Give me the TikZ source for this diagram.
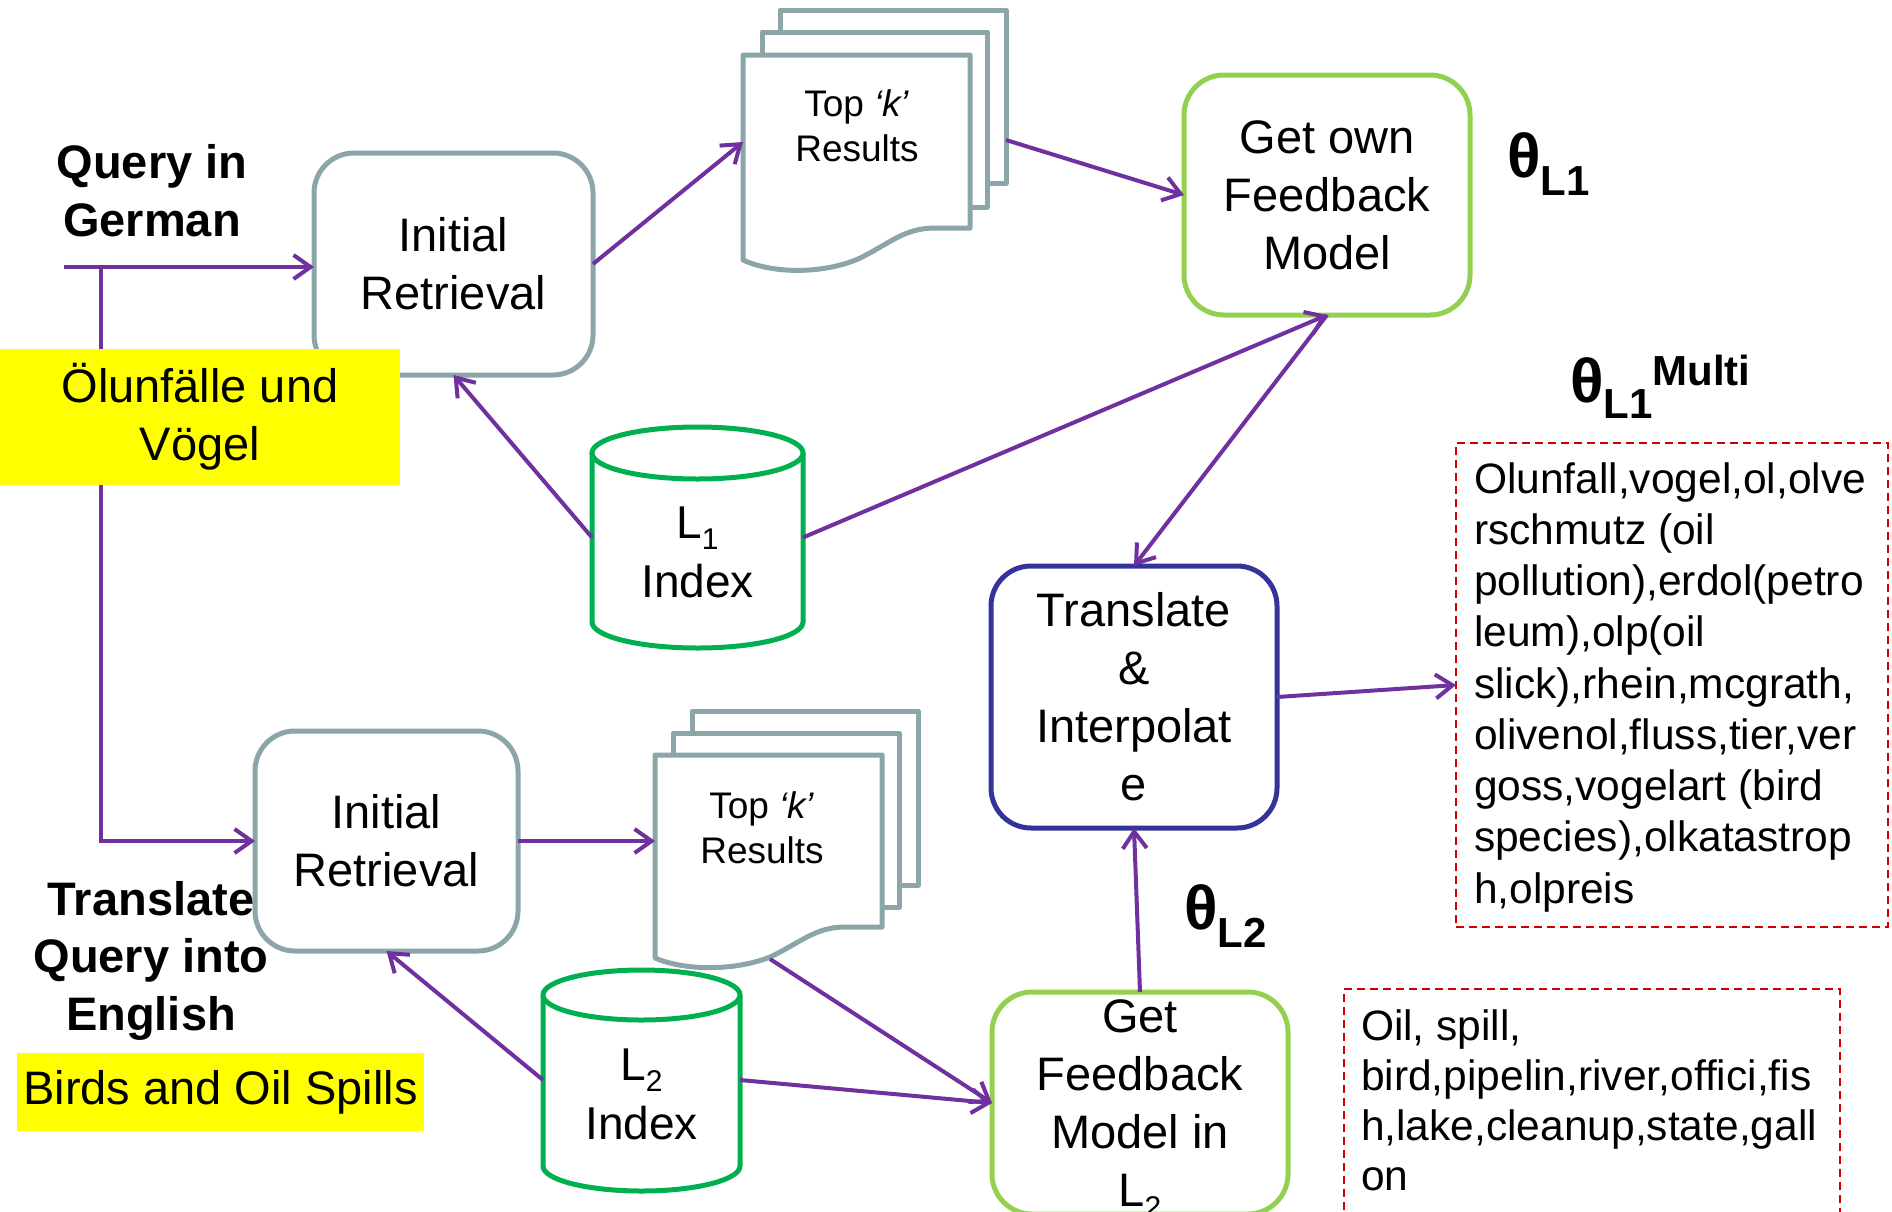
\documentclass[tikz,border=0pt]{standalone}
\usepackage{fontspec}
\setmainfont{Liberation Sans}
\usetikzlibrary{arrows.meta,calc}

\definecolor{flow}{RGB}{112,48,160}
\definecolor{slate}{RGB}{139,165,168}
\definecolor{leaf}{RGB}{146,208,80}
\definecolor{idxgreen}{RGB}{0,176,80}
\definecolor{navy}{RGB}{51,51,153}
\definecolor{termred}{RGB}{208,0,0}
\definecolor{hilite}{RGB}{255,255,0}

\newcommand\fsz[2]{\fontsize{#1}{#2}\selectfont}
\newcommand\dsub[1]{\raisebox{-11pt}[0pt][0pt]{\fontsize{30}{30}\selectfont #1}}

\begin{document}
\begin{tikzpicture}[x=1pt,y=-1pt,
  every node/.style={inner sep=0pt, outer sep=0pt},
  procbox/.style={draw, line width=5pt, rounded corners=40pt, fill=white,
    align=center, font=\fsz{47}{58}},
  retrbox/.style={procbox, draw=slate},
  fbbox/.style={procbox, draw=leaf},
  mixbox/.style={procbox, draw=navy},
  pagestyle/.style={draw=slate, line width=5pt, fill=white, line join=round},
  disk/.style={draw=idxgreen, line width=5pt, fill=white},
  disktext/.style={align=center, font=\fsz{46}{59}},
  toptext/.style={align=center, font=\fsz{37}{45.5}},
  qlabel/.style={align=center, font=\fsz{47}{58}\bfseries},
  marker/.style={fill=hilite, align=center, font=\fsz{47}{58}},
  termbox/.style={draw=termred, line width=2pt, dash pattern=on 8pt off 5pt},
  flowarrow/.style={draw=flow, line width=4pt, -{Straight Barb[length=17pt,width=24pt]}},
]
\useasboundingbox (0,0) rectangle (1892,1211);
\clip (0,0) rectangle (1892,1211);

% ---- retrieval boxes
\node[retrbox, minimum width=279pt, minimum height=222pt] (ir1) at (453.5,264) {Initial\\Retrieval};
\node[retrbox, minimum width=263pt, minimum height=220pt] (ir2) at (386.5,841) {Initial\\Retrieval};

% ---- feedback and interpolation boxes
\node[fbbox, minimum width=286pt, minimum height=240pt] (gofm) at (1327,195) {Get own\\Feedback\\Model};
\node[mixbox, minimum width=286pt, minimum height=262pt] (ti) at (1134,697) {Translate\\\&\\Interpolat\\e};
\node[fbbox, minimum width=296pt, minimum height=222pt] (fb2) at (1140,1103) {Get\\Feedback\\Model in\\L\dsub{2}};

% ---- stacks of result pages
\begin{scope}[shift={(743,55)}]
  \draw[pagestyle] (37,-45) rectangle (263,128);
  \draw[pagestyle] (19,-23) rectangle (244,152);
  \draw[pagestyle] (0,0) -- (227,0) -- (227,173) -- (192,173)
    .. controls (160,173) and (145,190) .. (115,204)
    .. controls (80,219) and (30,219) .. (0,205) -- cycle;
  \coordinate (tk1in) at (0,87);
  \coordinate (tk1out) at (263,85);
\end{scope}
\node[toptext] (tk1) at (857,126) {Top \textit{‘k’}\\Results};

\begin{scope}[shift={(655,755)}]
  \draw[pagestyle] (37,-44) rectangle (263,130);
  \draw[pagestyle] (18,-22) rectangle (244,152);
  \draw[pagestyle] (0,0) -- (227,0) -- (227,172) -- (190,172)
    .. controls (160,172) and (145,188) .. (115,202)
    .. controls (80,216) and (30,216) .. (0,203) -- cycle;
  \coordinate (tk2in) at (0,86);
  \coordinate (tk2foot) at (115,204);
\end{scope}
\node[toptext] (tk2) at (762,828) {Top \textit{‘k’}\\Results};

% ---- index cylinders
\draw[disk] (592,453) -- (592,622) arc[start angle=180, end angle=360, x radius=105.5pt, y radius=26pt] -- (803,453);
\draw[disk] (697.5,453) ellipse [x radius=105.5pt, y radius=26pt];
\node[minimum width=211pt, minimum height=221pt] (l1) at (697.5,537.5) {};
\node[disktext] (l1txt) at (697.5,552) {L\dsub{1}\\Index};

\draw[disk] (543,995) -- (543,1166) arc[start angle=180, end angle=360, x radius=98.5pt, y radius=25pt] -- (740,995);
\draw[disk] (641.5,995) ellipse [x radius=98.5pt, y radius=25pt];
\node[minimum width=197pt, minimum height=221pt] (l2) at (641.5,1080) {};
\node[disktext] (l2txt) at (641.5,1094) {L\dsub{2}\\Index};

% ---- term lists
\node[termbox, minimum width=432pt, minimum height=484pt] (mix) at (1672,685) {};
\node[anchor=base west] (mixtxt) at (1474,493) {\parbox[t]{460pt}{\fsz{42.5}{51.25}%
Olunfall,vogel,ol,olve\\
rschmutz (oil\\
pollution),erdol(petro\\
leum),olp(oil\\
slick),rhein,mcgrath,\\
olivenol,fluss,tier,ver\\
goss,vogelart (bird\\
species),olkatastrop\\
h,olpreis}};

\node[termbox, minimum width=496pt, minimum height=251pt] (en) at (1592,1114.5) {};
\node[anchor=base west] (entxt) at (1361,1040) {\parbox[t]{480pt}{\fsz{42.5}{50}%
Oil, spill,\\
bird,pipelin,river,offici,fis\\
h,lake,cleanup,state,gall\\
on}};

% ---- connectors
\coordinate (q0) at (64,267);
\coordinate (q1) at (101,267);
\draw[flowarrow] (q0) -- (q0 -| ir1.west);
\draw[flowarrow] (q1) |- (ir2.west);
\draw[flowarrow] (ir1.east) -- (tk1in);
\draw[flowarrow] (tk1out) -- (gofm.west);
\draw[flowarrow] (l1.west) -- (ir1.south);
\draw[flowarrow] (l1.east) -- (gofm.south);
\draw[flowarrow] (gofm.south) -- (ti.north);
\draw[flowarrow] (ti.east) -- (mix.west);
\draw[flowarrow] (fb2.north) -- (ti.south);
\draw[flowarrow] (ir2.east) -- (tk2in);
\draw[flowarrow] (l2.west) -- (ir2.south);
\draw[flowarrow] (tk2foot) -- (fb2.west);
\draw[flowarrow] (l2.east) -- (fb2.west);

% ---- query labels and highlighted queries
\node[qlabel] (qde) at (152,191) {Query in\\German};
\node[marker, minimum width=400pt, minimum height=136pt] (deq) at (200,417) {Ölunfälle und\\Vögel};
\node[qlabel, font=\fsz{47}{57.5}\bfseries] (qen) at (151,960.5) {Translate\\Query into\\English};
\node[marker, minimum width=407pt, minimum height=78pt] (enq) at (220.5,1092) {Birds and Oil Spills};

% ---- model labels
\node[anchor=base west] (thl1) at (1507,177)
  {\fsz{62}{62}\bfseries θ\raisebox{-18pt}{\fsz{42}{42}L1}};
\node[anchor=base west] (thmulti) at (1570,402)
  {\fsz{62}{62}\bfseries θ\raisebox{-16pt}{\fsz{42}{42}L1}\raisebox{17pt}{\fsz{42}{42}Multi}};
\node[anchor=base west] (thl2) at (1184,929)
  {\fsz{62}{62}\bfseries θ\raisebox{-18pt}{\fsz{42}{42}L2}};
\end{tikzpicture}
\end{document}
